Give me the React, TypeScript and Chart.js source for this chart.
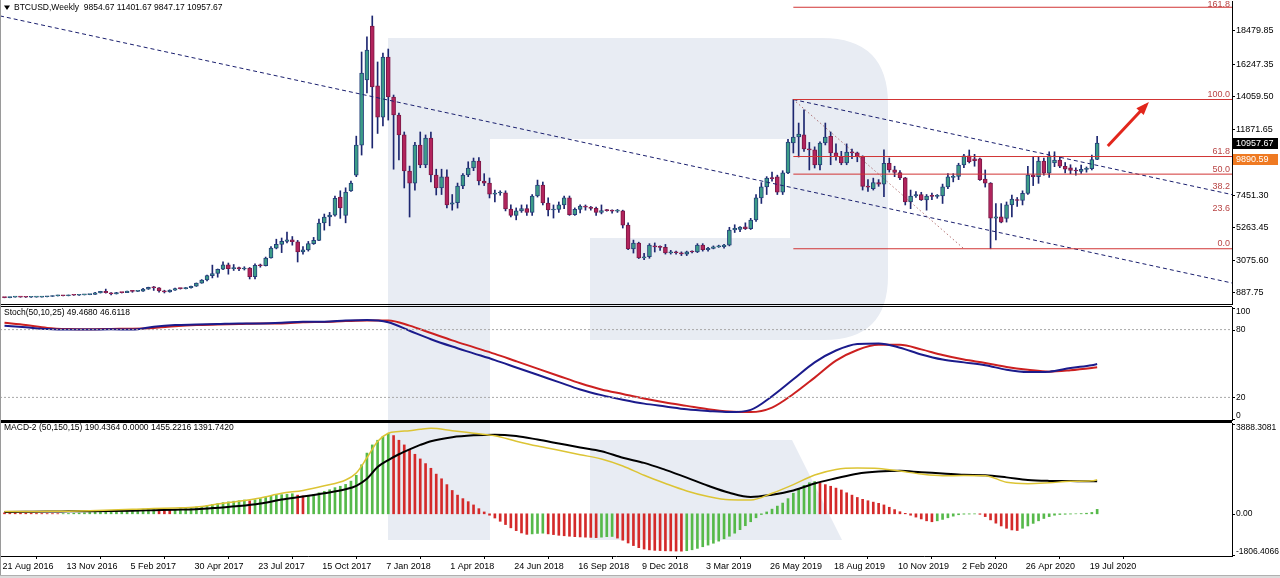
import React, { useEffect, useRef } from "react";
import { Chart, registerables } from "chart.js";

Chart.register(...registerables);

const FONT = '"Liberation Sans", Arial, sans-serif';

// ---------- BTCUSD weekly candles (index 0 = week of 21 Aug 2016) ----------
const opens = [
  581, 573, 607, 623, 609, 605, 609, 615, 638, 655,
  697, 712, 705, 741, 737, 765, 777, 791, 895, 998,
  904, 822, 921, 914, 1010, 998, 1003, 1150, 1265, 1230,
  1022, 960, 1080, 1190, 1180, 1245, 1340, 1555, 1760, 2050,
  2200, 2480, 2780, 2520, 2600, 2500, 2560, 1990, 2750, 2720,
  3240, 3900, 4150, 4350, 4450, 4330, 3650, 3780, 4200, 4420,
  5590, 5990, 6120, 7330, 6100, 7750, 8800, 10820, 15200, 18815,
  14800, 12700, 16730, 14050, 12840, 11500, 9080, 8270, 10820, 9480,
  11290, 8810, 7940, 8680, 6850, 6950, 8070, 8810, 9280, 9750,
  8410, 8270, 7530, 7600, 7620, 6530, 6100, 6400, 6550, 6300,
  7400, 8140, 6930, 6460, 6500, 6800, 7270, 6150, 6500, 6720,
  6650, 6570, 6300, 6430, 6420, 6380, 6400, 5450, 3840, 4240,
  3240, 3320, 4050, 3980, 3950, 3580, 3660, 3590, 3500, 3660,
  3640, 4110, 3800, 3880, 3990, 4000, 4100, 5120, 5150, 5330,
  5200, 5790, 7270, 8010, 8610, 8680, 7660, 8950, 10960, 11360,
  11500, 10560, 10500, 9490, 10960, 11400, 10300, 10050, 9620, 10350,
  10300, 10050, 8050, 7900, 8300, 8200, 9600, 9150, 8980, 8620,
  7000, 7400, 7500, 7140, 7400, 7380, 7400, 8010, 8650, 8720,
  9480, 10090, 9900, 9900, 8540, 8270, 5920, 6010, 5900, 6800,
  7150, 7100, 7580, 8810, 8700, 9750, 8940, 9620, 9820, 9400,
  9300, 9120, 9050, 9190, 9230, 9854.67,
];
const highs = [
  591, 612, 629, 625, 612, 612, 617, 644, 658, 703,
  742, 716, 752, 749, 771, 778, 800, 935, 1003, 1150,
  915, 932, 928, 1018, 1055, 1012, 1200, 1280, 1330, 1250,
  1075, 1100, 1210, 1220, 1260, 1350, 1560, 1790, 2090, 2760,
  2500, 2980, 2900, 2800, 2620, 2650, 2600, 2850, 2830, 3300,
  4000, 4500, 4580, 4980, 4680, 4420, 4000, 4350, 4620, 5850,
  6190, 6300, 7400, 7750, 7950, 8400, 11420, 17070, 18080, 19490,
  16400, 17000, 17270, 14180, 12970, 11700, 9410, 11000, 11700, 11500,
  11700, 9200, 9200, 9150, 7500, 8270, 8900, 9700, 9950, 9980,
  8900, 8610, 7800, 7750, 7750, 6800, 6600, 6800, 6800, 7500,
  8470, 8340, 7270, 6800, 7000, 7400, 7400, 6600, 6800, 6800,
  6700, 6650, 6800, 6500, 6480, 6500, 6450, 5600, 4440, 4300,
  3550, 4200, 4250, 4050, 4150, 3750, 3700, 3650, 3700, 3720,
  4200, 4200, 3950, 4050, 4100, 4150, 5300, 5470, 5350, 5600,
  5900, 7500, 8300, 8700, 9000, 8800, 9100, 11200, 13880, 12300,
  13180, 11000, 10700, 11030, 12300, 11700, 10900, 10400, 10900, 10550,
  10350, 10100, 8500, 8600, 8500, 10500, 9950, 9400, 9100, 8650,
  7800, 7700, 7650, 7500, 7600, 7500, 8200, 8900, 8900, 9600,
  10200, 10490, 10200, 9950, 9150, 8300, 6890, 6890, 7000, 7470,
  7300, 7750, 9400, 10040, 10000, 9950, 10370, 10370, 10000, 9650,
  9500, 9300, 9480, 9350, 10150, 11401.67,
];
const lows = [
  566, 566, 602, 601, 590, 597, 605, 612, 628, 651,
  685, 698, 693, 728, 728, 755, 770, 786, 885, 880,
  756, 818, 886, 913, 935, 983, 1000, 1130, 1060, 940,
  890, 940, 1060, 1150, 1160, 1220, 1330, 1540, 1700, 1900,
  1950, 2450, 2150, 2400, 2380, 2430, 1830, 1830, 2620, 2700,
  3220, 3850, 3600, 4250, 4100, 2970, 3500, 3700, 4150, 4400,
  5110, 5400, 6050, 5900, 5600, 7700, 8700, 10150, 14320, 10620,
  11600, 12100, 12500, 9200, 9820, 7940, 5990, 7800, 9300, 9300,
  8340, 7470, 7500, 6600, 6450, 6590, 7900, 8700, 9100, 8140,
  8100, 7270, 7000, 7450, 6400, 6000, 5800, 6300, 6100, 6100,
  7330, 6800, 6060, 5920, 6300, 6550, 6100, 6100, 6260, 6450,
  6450, 6100, 6200, 6380, 6250, 6300, 5250, 3800, 3570, 3200,
  3120, 3220, 3640, 3750, 3500, 3500, 3500, 3400, 3400, 3580,
  3600, 3700, 3700, 3850, 3950, 3900, 4050, 4950, 5000, 5150,
  5150, 5700, 6900, 7500, 8400, 7500, 7500, 8900, 10290, 10020,
  10400, 9150, 9280, 9150, 10830, 9500, 9800, 9500, 9500, 9900,
  9700, 7800, 7700, 7800, 8050, 7350, 9000, 8700, 8500, 6800,
  6550, 7300, 7100, 6450, 7150, 7250, 6900, 7900, 8350, 8500,
  9300, 9620, 9400, 8450, 8000, 3858, 4450, 5600, 5650, 6000,
  6700, 6800, 7500, 8100, 8250, 8800, 8650, 9370, 9300, 8950,
  8900, 8800, 8920, 9000, 9150, 9847.17,
];
const closes = [
  573, 607, 623, 609, 605, 609, 615, 638, 655, 697,
  712, 705, 741, 737, 765, 777, 791, 895, 998, 904,
  822, 921, 914, 1010, 998, 1003, 1150, 1265, 1230, 1022,
  960, 1080, 1190, 1180, 1245, 1340, 1555, 1760, 2050, 2200,
  2480, 2780, 2520, 2600, 2500, 2560, 1990, 2750, 2720, 3240,
  3900, 4150, 4350, 4450, 4330, 3650, 3780, 4200, 4420, 5590,
  5990, 6120, 7250, 6600, 7660, 8270, 10820, 15660, 17200, 14720,
  12700, 16730, 14050, 12840, 11500, 9080, 8270, 10820, 9480, 11290,
  8810, 7940, 8680, 6800, 6950, 8070, 8810, 9280, 9750, 8410,
  8270, 7530, 7600, 7620, 6530, 6100, 6400, 6550, 6300, 7400,
  8140, 6930, 6460, 6500, 6800, 7270, 6150, 6500, 6720, 6650,
  6570, 6300, 6430, 6420, 6380, 6400, 5450, 3840, 4240, 3240,
  3320, 4110, 3980, 3950, 3580, 3660, 3590, 3520, 3660, 3640,
  4110, 3800, 3880, 3990, 4000, 4100, 5120, 5230, 5320, 5200,
  5790, 7270, 8010, 8610, 8570, 7660, 8950, 11020, 11360, 11560,
  10560, 10500, 9490, 10960, 11360, 10300, 10050, 9620, 10350, 10300,
  10050, 8050, 8000, 8300, 8200, 9600, 9150, 8980, 8620, 7000,
  7400, 7500, 7140, 7400, 7380, 7400, 8010, 8680, 8720, 9480,
  10090, 9700, 9780, 8500, 8270, 5920, 6010, 5650, 6800, 7200,
  7100, 7580, 8810, 8700, 9750, 8940, 10090, 9820, 9400, 9200,
  9120, 9080, 9190, 9230, 9854.67, 10957.67,
];

// ---------- time axis ----------
const dateLabels = [
  "21 Aug 2016", "13 Nov 2016", "5 Feb 2017", "30 Apr 2017", "23 Jul 2017", "15 Oct 2017",
  "7 Jan 2018", "1 Apr 2018", "24 Jun 2018", "16 Sep 2018", "9 Dec 2018", "3 Mar 2019",
  "26 May 2019", "18 Aug 2019", "10 Nov 2019", "2 Feb 2020", "26 Apr 2020", "19 Jul 2020",
];
const dateLabelIdx = [0, 12, 24, 36, 48, 60, 72, 84, 96, 108, 120, 132, 144, 156, 168, 180, 192, 204];
const X_RANGE = [-0.844, 230.3];

// ---------- price axis ----------
const priceRange = [149.15, 20494.21];
const priceTicks = [887.75, 3075.6, 5263.45, 7451.3, 9683.8, 11871.65, 14059.5, 16247.35, 18479.85];
const lastPrice = 10957.67;
const levelPrice = 9890.59;
const headerText = "BTCUSD,Weekly  9854.67 11401.67 9847.17 10957.67";

// ---------- drawings ----------
const trendX = [-0.844, 230.3];
const trendY = [19494, 1559];
const channelX = [148, 230.3];
const channelY = [13880, 7495];
const fibAnchorX = [148, 180];
const fibAnchorY = [13880, 3858];
const fibLevels = [0, 23.6, 38.2, 50, 61.8, 100, 161.8];
const fibLineLevels = [0, 50, 61.8, 100, 161.8];
const arrowX = [207.0, 214.2];
const arrowY = [10758, 13511];

// ---------- Stochastic (50,10,25) ----------
const stochIdx = [0, 4, 8, 12, 16, 20, 24, 28, 32, 36, 40, 44, 48, 52, 56, 60, 64, 68, 72, 76, 80, 84, 88, 92, 96, 100,
  104, 108, 112, 116, 120, 124, 128, 132, 136, 140, 144, 148, 152, 156, 160, 164, 168, 172, 176, 180, 184, 188, 192, 196,
  200, 204, 205];
const stochMain = [83.5, 82, 80.5, 80, 80, 80.2, 80, 82.5, 84, 84.5, 85, 85.5, 85.5, 86, 87, 87, 88, 88.5, 86.5, 79,
  71.5, 65, 59, 53, 46.5, 40, 33.5, 27, 22, 18, 14.5, 12, 9.5, 8, 7, 9, 21, 36, 51, 61.5,
  67.3, 67.8, 64, 58, 53.5, 51, 48.5, 44.5, 42.5, 42.8, 46, 48.5, 49.468];
const stochSignal = [86, 84, 81.5, 80.5, 80.3, 80.6, 80.8, 81.5, 83, 84, 84.5, 85, 85.5, 85.5, 86.5, 86.8, 87.5, 88, 88, 83.5,
  77, 70.5, 64.5, 58.5, 52, 45.5, 39, 32.5, 27, 23, 19, 15.5, 12.5, 9.5, 7.5, 7, 11, 23, 37.5, 52.5,
  62, 66.5, 66.5, 62.5, 57.5, 53.5, 50.5, 47, 44.5, 42.8, 44, 46, 46.6118];
const stochLevels = [80, 20];
const stochTicks = [100, 80, 20, 0];
const stochTickLabels = ["100", "80", "20", "0"];
const stochHeader = "Stoch(50,10,25) 49.4680 46.6118";

// ---------- MACD-2 (50,150,15) ----------
const macdHist = [
  40, 35, 30, 25, 22, 18, 15, 12, 10, 8,
  6, 10, 15, 22, 30, 40, 55, 70, 90, 110,
  120, 125, 135, 150, 170, 180, 200, 215, 230, 220,
  205, 195, 200, 215, 235, 260, 290, 320, 360, 400,
  440, 480, 510, 540, 560, 590, 560, 600, 650, 700,
  760, 800, 820, 840, 860, 800, 770, 790, 830, 900,
  960, 1030, 1120, 1180, 1260, 1400, 1650, 2100, 2600, 2950,
  3150, 3300, 3450, 3350, 3150, 2950, 2750, 2550, 2350, 2150,
  1950, 1700, 1500, 1250, 1000, 800, 650, 520, 380, 220,
  80, -60, -180, -320, -460, -600, -720, -820, -880, -860,
  -840, -830, -860, -890, -920, -940, -960, -980, -990, -1000,
  -1010, -1020, -1000, -980, -970, -1040, -1130, -1250, -1360, -1450,
  -1510, -1545, -1565, -1575, -1585, -1590, -1595, -1600, -1580, -1540,
  -1480, -1410, -1340, -1260, -1170, -1070, -960, -830, -680, -510,
  -340, -170, -30, 80, 200, 330, 460, 650, 880, 1080,
  1220, 1330, 1380, 1320, 1250, 1180, 1100, 1020, 900, 800,
  700, 620, 560, 500, 450, 380, 280, 180, 90, 20,
  -60, -140, -220, -300, -340, -300, -240, -170, -100, -40,
  -15, -10, -5, -20, -120, -260, -400, -520, -620, -690,
  -715, -620, -520, -410, -300, -200, -120, -60, -30, -20,
  -10, 0, 10, 25, 60, 190.4364,
];
const macdIdx = [0, 4, 8, 12, 16, 20, 24, 28, 32, 36, 40, 44, 48, 52, 56, 60, 64, 66, 68, 70, 72, 74, 76, 78, 80,
  84, 88, 92, 96, 100, 104, 108, 112, 116, 120, 124, 128, 132, 136, 140, 144, 148, 152, 156, 160, 164, 168, 172, 176,
  180, 184, 188, 192, 196, 200, 204, 205];
const macdMain = [95, 100, 105, 110, 130, 160, 190, 230, 250, 290, 420, 540, 680, 880, 1000, 1200, 1450,
  1750, 2400, 3100, 3450, 3520, 3560, 3620, 3660,
  3560, 3450, 3340, 3110, 2900, 2720, 2530, 2350, 2050, 1650, 1300, 980, 740, 600, 590, 880, 1250, 1660, 1900, 1960,
  1940, 1830, 1700, 1630, 1640, 1630, 1350, 1290, 1330, 1390, 1415, 1455.2216];
const macdSignal = [80, 90, 100, 105, 110, 120, 135, 155, 175, 200, 260, 330, 440, 610, 740, 880, 1050,
  1200, 1500, 2000, 2300, 2550, 2760, 2950, 3110,
  3280, 3360, 3390, 3330, 3180, 3010, 2840, 2680, 2400, 2180, 1880, 1550, 1200, 900, 720, 820, 1000, 1300, 1520, 1720,
  1810, 1840, 1780, 1730, 1670, 1650, 1560, 1450, 1410, 1400, 1392, 1391.742];
const macdRange = [-1806.4066, 3888.3081];
const macdTicks = [3888.3081, 0, -1806.4066];
const macdTickLabels = ["3888.3081", "0.00", "-1806.4066"];
const macdHeader = "MACD-2 (50,150,15) 190.4364 0.0000 1455.2216 1391.7420";

// ---------- styles ----------
const BULL = "#3c9c88";
const BULL_EDGE = "#24407a";
const BEAR = "#b2245c";
const BEAR_EDGE = "#7c1846";
const WICK = "#1d2770";
const TREND = "#1a1f6e";
const FIB = "#d13434";
const FIB_TEXT = "#b84444";
const FIB_DIAG = "#8c2c2c";
const ARROW = "#e2261c";
const ST_MAIN = "#1b1b8c";
const ST_SIG = "#cc2020";
const H_UP = "#56b94a";
const H_DN = "#d42a2a";
const M_MAIN = "#dcc434";
const M_SIG = "#000000";

const lineDs = (points: any[], color: string, width: number, dash: number[] = [], smooth = false, order = 0) => ({
  type: "line",
  data: points,
  borderColor: color,
  borderWidth: width,
  borderDash: dash,
  pointRadius: 0,
  fill: false,
  tension: 0,
  cubicInterpolationMode: smooth ? "monotone" : "default",
  order,
});

const xy = (xs: number[], ys: number[]) => xs.map((x, k) => ({ x, y: ys[k] }));

const baseOptions = (padding: any) => ({
  animation: false,
  responsive: false,
  devicePixelRatio: 1,
  events: [],
  layout: { padding },
  plugins: { legend: { display: false }, tooltip: { enabled: false } },
});

const hiddenX = { type: "linear", min: X_RANGE[0], max: X_RANGE[1], offset: false, display: false };

// ---------- plugins ----------
const makeHeader = (text: string, y: number, triangle: boolean) => ({
  id: "header" + y + text.length,
  afterDraw(chart: any) {
    const { ctx, chartArea } = chart;
    ctx.save();
    let x = chartArea.left + 4;
    ctx.fillStyle = "#000";
    if (triangle) {
      ctx.beginPath();
      ctx.moveTo(x, y - 2.5);
      ctx.lineTo(x + 6, y - 2.5);
      ctx.lineTo(x + 3, y + 2);
      ctx.closePath();
      ctx.fill();
      x += 10;
    }
    ctx.font = `8.5px ${FONT}`;
    ctx.textAlign = "left";
    ctx.textBaseline = "middle";
    ctx.fillText(text, x, y);
    ctx.restore();
  },
});

const makeFrame = (lines: { y: number; w: number }[]) => ({
  id: "frame" + lines.length + lines[0].y,
  afterDraw(chart: any) {
    const { ctx, chartArea } = chart;
    ctx.save();
    ctx.fillStyle = "#000";
    for (const l of lines) ctx.fillRect(0, l.y, chartArea.right, l.w);
    ctx.restore();
  },
});

const makeSideLabels = (values: number[], labels: string[]) => ({
  id: "side" + labels.join(""),
  afterDraw(chart: any) {
    const { ctx, chartArea, scales } = chart;
    const ys = scales.y;
    ctx.save();
    ctx.font = `8.5px ${FONT}`;
    ctx.fillStyle = "#000";
    ctx.strokeStyle = "#000";
    ctx.lineWidth = 1;
    ctx.textAlign = "left";
    ctx.textBaseline = "middle";
    values.forEach((v, k) => {
      const py = ys.getPixelForValue(v);
      const ly = Math.min(Math.max(py, chartArea.top + 5), chartArea.bottom - 4);
      const ty = Math.min(Math.max(py, chartArea.top + 1), chartArea.bottom - 1);
      ctx.beginPath();
      ctx.moveTo(chartArea.right, Math.round(ty) + 0.5);
      ctx.lineTo(chartArea.right + 3, Math.round(ty) + 0.5);
      ctx.stroke();
      ctx.fillText(labels[k], chartArea.right + 4, ly);
    });
    ctx.restore();
  },
});

const fibPrice = (l: number) => fibAnchorY[1] + ((fibAnchorY[0] - fibAnchorY[1]) * l) / 100;

const fibLabelPlugin = {
  id: "fibLabels",
  afterDatasetsDraw(chart: any) {
    const { ctx, chartArea, scales } = chart;
    ctx.save();
    ctx.font = `9px ${FONT}`;
    ctx.fillStyle = FIB_TEXT;
    ctx.textAlign = "right";
    ctx.textBaseline = "middle";
    for (const l of fibLevels) {
      const py = scales.y.getPixelForValue(fibPrice(l));
      ctx.fillText(l.toFixed(1), chartArea.right - 2, Math.max(py - 5, chartArea.top + 4));
    }
    ctx.restore();
  },
};

const priceBoxPlugin = {
  id: "priceBoxes",
  afterDraw(chart: any) {
    const { ctx, chartArea, scales } = chart;
    const boxes = [
      { v: levelPrice, bg: "#ef7a22" },
      { v: lastPrice, bg: "#000000" },
    ];
    ctx.save();
    ctx.font = `9px ${FONT}`;
    ctx.textAlign = "left";
    ctx.textBaseline = "middle";
    for (const b of boxes) {
      const py = Math.round(scales.y.getPixelForValue(b.v));
      ctx.fillStyle = b.bg;
      ctx.fillRect(chartArea.right + 1, py - 5, 45, 11);
      ctx.fillStyle = "#fff";
      ctx.fillText(b.v.toFixed(2), chartArea.right + 4, py + 0.5);
    }
    ctx.restore();
  },
};

const arrowHeadPlugin = {
  id: "arrowHead",
  afterDatasetsDraw(chart: any) {
    const n = chart.data.datasets.length - 1;
    const pts = chart.getDatasetMeta(n).data;
    if (!pts || pts.length < 2) return;
    const a = pts[0];
    const b = pts[pts.length - 1];
    const ang = Math.atan2(b.y - a.y, b.x - a.x);
    const c = Math.cos(ang);
    const s = Math.sin(ang);
    const tipX = b.x + 4 * c;
    const tipY = b.y + 4 * s;
    const baseX = b.x - 9 * c;
    const baseY = b.y - 9 * s;
    const { ctx } = chart;
    ctx.save();
    ctx.fillStyle = ARROW;
    ctx.beginPath();
    ctx.moveTo(tipX, tipY);
    ctx.lineTo(baseX - 5 * s, baseY + 5 * c);
    ctx.lineTo(baseX + 5 * s, baseY - 5 * c);
    ctx.closePath();
    ctx.fill();
    ctx.restore();
  },
};

// ---------- chart configs ----------
function priceConfig(): any {
  const idx = closes.map((_, i) => i);
  const up = idx.map((i) => closes[i] >= opens[i]);
  return {
    type: "bar",
    data: {
      datasets: [
        {
          type: "bar",
          data: idx.map((i) => ({ x: i, y: [lows[i], highs[i]] })),
          backgroundColor: WICK,
          barThickness: 1,
          barPercentage: 1,
          categoryPercentage: 1,
          grouped: false,
          order: 10,
        },
        {
          type: "bar",
          data: idx.map((i) => ({ x: i, y: [opens[i], closes[i]] })),
          backgroundColor: up.map((u) => (u ? BULL : BEAR)),
          borderColor: up.map((u) => (u ? BULL_EDGE : BEAR_EDGE)),
          borderWidth: 1,
          borderSkipped: false,
          barThickness: 4,
          barPercentage: 1,
          categoryPercentage: 1,
          minBarLength: 1,
          grouped: false,
          order: 9,
        },
        ...fibLineLevels.map((l) =>
          lineDs([{ x: fibAnchorX[0], y: fibPrice(l) }, { x: X_RANGE[1], y: fibPrice(l) }], FIB, 1)
        ),
        lineDs(xy(fibAnchorX, fibAnchorY), FIB_DIAG, 1, [1, 3]),
        lineDs(xy(trendX, trendY), TREND, 1, [4, 3]),
        lineDs(xy(channelX, channelY), TREND, 1, [4, 3]),
        lineDs(xy(arrowX, arrowY), ARROW, 3),
      ],
    },
    options: {
      ...baseOptions({ top: 1, bottom: 1, left: 0, right: 0 }),
      scales: {
        x: hiddenX,
        y: {
          type: "linear",
          position: "right",
          min: priceRange[0],
          max: priceRange[1],
          afterBuildTicks: (s: any) => {
            s.ticks = priceTicks.map((v) => ({ value: v }));
          },
          afterFit: (s: any) => {
            s.width = 48;
            s.paddingTop = 0;
            s.paddingBottom = 0;
          },
          ticks: {
            autoSkip: false,
            padding: 1,
            color: "#000",
            font: { family: FONT, size: 9 },
            callback: (v: any) => Number(v).toFixed(2),
          },
          grid: { drawOnChartArea: false, drawTicks: true, tickLength: 3, color: "#000" },
          border: { display: true, color: "#000" },
        },
      },
    },
    plugins: [
      makeHeader(headerText, 8, true),
      makeFrame([{ y: 304, w: 1 }]),
      fibLabelPlugin,
      priceBoxPlugin,
      arrowHeadPlugin,
    ],
  };
}

function stochConfig(): any {
  return {
    type: "line",
    data: {
      datasets: [
        ...stochLevels.map((v) => lineDs([{ x: X_RANGE[0], y: v }, { x: X_RANGE[1], y: v }], "#a9a9a9", 1, [2, 2])),
        lineDs(xy(stochIdx, stochMain), ST_MAIN, 2, [], true),
        lineDs(xy(stochIdx, stochSignal), ST_SIG, 2, [], true),
      ],
    },
    options: {
      ...baseOptions({ top: 2, bottom: 2, left: 0, right: 0 }),
      scales: {
        x: hiddenX,
        y: {
          type: "linear",
          position: "right",
          min: 0,
          max: 100,
          ticks: { display: false },
          grid: { display: false },
          border: { display: true, color: "#000" },
          afterFit: (s: any) => {
            s.width = 48;
          },
        },
      },
    },
    plugins: [
      makeHeader(stochHeader, 8, false),
      makeFrame([{ y: 1, w: 1 }, { y: 115, w: 2 }]),
      makeSideLabels(stochTicks, stochTickLabels),
    ],
  };
}

function macdConfig(): any {
  const colors = macdHist.map((v, i) => (i > 0 && v >= macdHist[i - 1] ? H_UP : H_DN));
  return {
    type: "bar",
    data: {
      datasets: [
        {
          type: "bar",
          data: macdHist.map((v, i) => ({ x: i, y: v })),
          backgroundColor: colors,
          barThickness: 2,
          barPercentage: 1,
          categoryPercentage: 1,
          grouped: false,
          order: 10,
        },
        lineDs(xy(macdIdx, macdMain), M_MAIN, 1.5, [], true),
        lineDs(xy(macdIdx, macdSignal), M_SIG, 2, [], true),
      ],
    },
    options: {
      ...baseOptions({ top: 1, bottom: 0, left: 0, right: 0 }),
      scales: {
        x: {
          type: "linear",
          min: X_RANGE[0],
          max: X_RANGE[1],
          offset: false,
          afterBuildTicks: (s: any) => {
            s.ticks = dateLabelIdx.map((v) => ({ value: v }));
          },
          afterFit: (s: any) => {
            s.height = 22;
            s.paddingLeft = 0;
            s.paddingRight = 0;
          },
          ticks: {
            autoSkip: false,
            maxRotation: 0,
            minRotation: 0,
            align: "start",
            labelOffset: -2,
            padding: 2,
            color: "#000",
            font: { family: FONT, size: 9 },
            callback: (_v: any, index: number) => dateLabels[index],
          },
          grid: { drawOnChartArea: false, drawTicks: true, tickLength: 3, color: "#000" },
          border: { display: true, color: "#000" },
        },
        y: {
          type: "linear",
          position: "right",
          min: macdRange[0],
          max: macdRange[1],
          ticks: { display: false },
          grid: { display: false },
          border: { display: true, color: "#000" },
          afterFit: (s: any) => {
            s.width = 48;
          },
        },
      },
    },
    plugins: [
      makeHeader(macdHeader, 5.5, false),
      makeFrame([{ y: 0, w: 1 }]),
      makeSideLabels(macdTicks, macdTickLabels),
    ],
  };
}

export default function App() {
  const priceRef = useRef<HTMLCanvasElement>(null);
  const stochRef = useRef<HTMLCanvasElement>(null);
  const macdRef = useRef<HTMLCanvasElement>(null);

  useEffect(() => {
    const charts = [
      new Chart(priceRef.current as HTMLCanvasElement, priceConfig()),
      new Chart(stochRef.current as HTMLCanvasElement, stochConfig()),
      new Chart(macdRef.current as HTMLCanvasElement, macdConfig()),
    ];
    return () => charts.forEach((c) => c.destroy());
  }, []);

  const abs = (top: number, h: number): React.CSSProperties => ({
    position: "absolute",
    left: 0,
    top,
    width: 1280,
    height: h,
  });

  return (
    <div
      style={{
        position: "fixed",
        left: 0,
        top: 0,
        width: 1280,
        height: 578,
        background: "#ffffff",
        overflow: "hidden",
      }}
    >
      <svg width={1280} height={578} style={{ position: "absolute", left: 0, top: 0 }}>
        <path
          d="M388 38 H822 Q888 38 888 104 V276 Q888 340 824 340 H590 V238 H790 V139 H490 V540 H388 Z"
          fill="#e8ecf3"
        />
        <path d="M590 440 H792 L842 540 H590 Z" fill="#e8ecf3" />
      </svg>
      <canvas ref={priceRef} width={1280} height={305} style={abs(0, 305)} />
      <canvas ref={stochRef} width={1280} height={117} style={abs(305, 117)} />
      <canvas ref={macdRef} width={1280} height={156} style={abs(422, 156)} />
      <div style={{ position: "absolute", left: 0, top: 0, width: 1, height: 578, background: "#9a9a9a" }} />
      <div
        style={{
          position: "absolute",
          left: 0,
          top: 575,
          width: 1280,
          height: 3,
          background: "#dcdcdc",
          borderTop: "1px solid #b0b0b0",
        }}
      />
    </div>
  );
}
